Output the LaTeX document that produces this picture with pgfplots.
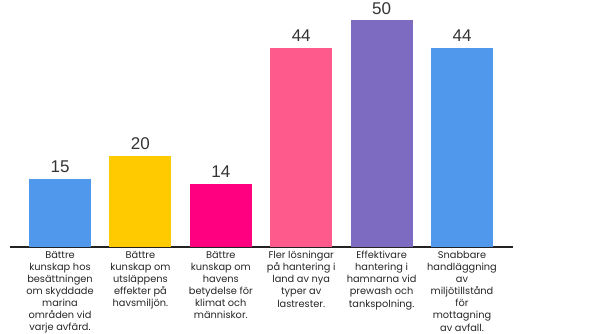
\documentclass[border=0pt]{standalone}
\usepackage{fontspec}
\setmainfont{Poppins}
\newfontfamily\numfont{Liberation Sans}
\usepackage{pgfplots}
\pgfplotsset{compat=1.18}
\definecolor{cblue}{HTML}{4F98EC}
\definecolor{cyellow}{HTML}{FFCB00}
\definecolor{cmag}{HTML}{FF0080}
\definecolor{cpink}{HTML}{FF5A8C}
\definecolor{cpurple}{HTML}{7D6BC1}
\definecolor{axisc}{HTML}{222222}
\begin{document}
\begin{tikzpicture}
\begin{axis}[
  at={(10pt,86pt)}, anchor=south west,
  scale only axis, width=503pt, height=247pt,
  xmin=-0.622, xmax=5.634, ymin=0, ymax=54.5,
  axis y line=none, axis x line*=bottom,
  x axis line style={-, line width=2pt, color=axisc},
  ybar, bar width=62pt,
  /pgf/number format/assume math mode=true,
  xtick={0,1,2,3,4,5}, major tick length=0pt,
  xticklabels={
    {Bättre\\kunskap hos\\besättningen\\om skyddade\\marina\\områden vid\\varje avfärd.},
    {Bättre\\kunskap om\\utsläppens\\effekter på\\havsmiljön.},
    {Bättre\\kunskap om\\havens\\betydelse för\\klimat och\\människor.},
    {Fler lösningar\\på hantering i\\land av nya\\typer av\\lastrester.},
    {Effektivare\\hantering i\\hamnarna vid\\prewash och\\tankspolning.},
    {Snabbare\\handläggning\\av\\miljötillstånd\\för\\mottagning\\av avfall.}},
  xticklabel style={align=center, font=\fontsize{9.8}{12.1}\selectfont, text=black!85, anchor=north, inner sep=0pt, yshift=-4pt},
  nodes near coords,
  every node near coord/.append style={font=\numfont\fontsize{17}{17}\selectfont, text=black!80, anchor=south, inner sep=0pt, yshift=6pt},
  clip=false,
]
\addplot[fill=cblue, draw=none, bar shift=0pt] coordinates {(0,15)};
\addplot[fill=cyellow, draw=none, bar shift=0pt] coordinates {(1,20)};
\addplot[fill=cmag, draw=none, bar shift=0pt] coordinates {(2,14)};
\addplot[fill=cpink, draw=none, bar shift=0pt] coordinates {(3,44)};
\addplot[fill=cpurple, draw=none, bar shift=0pt] coordinates {(4,50)};
\addplot[fill=cblue, draw=none, bar shift=0pt] coordinates {(5,44)};
\end{axis}
\pgfresetboundingbox
\useasboundingbox (0,0) rectangle (590pt,333pt);
\end{tikzpicture}
\end{document}
